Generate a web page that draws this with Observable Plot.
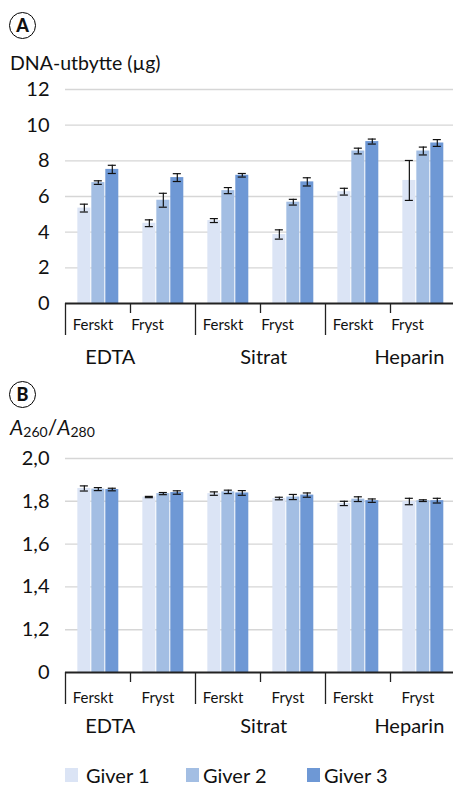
<!DOCTYPE html>
<html><head><meta charset="utf-8">
<script src="https://cdn.jsdelivr.net/npm/d3@7"></script>
<script src="https://cdn.jsdelivr.net/npm/@observablehq/plot@0.6"></script>
<style>
body{margin:0;background:#fff;}
#wrap{position:relative;width:453px;height:787px;font-family:Lato,"Open Sans",sans-serif;color:#111;overflow:hidden;}
.badge{position:absolute;left:9px;width:25px;height:25px;border:1.8px solid #000;border-radius:50%;font-weight:900;font-size:18px;line-height:25px;text-align:center;}
.ylab{position:absolute;left:10px;font-size:19.5px;line-height:1;white-space:nowrap;}
.chart{position:absolute;left:0;}
.sw{position:absolute;top:768px;width:13px;height:14px;}
.lt{position:absolute;top:765px;font-size:20px;line-height:1;white-space:nowrap;}
sub{font-size:14px;vertical-align:-2px;font-style:normal;}
</style></head><body><div id="wrap">
<div class="badge" style="top:12px">A</div>
<div class="ylab" style="top:53px">DNA-utbytte (µg)</div>
<div class="chart" id="chartA" style="top:78px"></div>
<div class="badge" style="top:381px">B</div>
<div class="ylab" style="top:416px;font-size:21px"><i>A</i><sub>260</sub>/<i>A</i><sub>280</sub></div>
<div class="chart" id="chartB" style="top:447px"></div>
<div id="legend"></div>
</div>
<script>
// ---- data ----
const categories = ["Ferskt", "Fryst", "Ferskt", "Fryst", "Ferskt", "Fryst"];
const groups = ["EDTA", "Sitrat", "Heparin"];
const givers = ["Giver 1", "Giver 2", "Giver 3"];
const giverColors = ["#dbe4f5", "#a3bee3", "#6e98d5"];

const yieldG1 = [5.35, 4.50, 4.65, 3.87, 6.27, 6.90];
const yieldG2 = [6.78, 5.79, 6.33, 5.68, 8.55, 8.55];
const yieldG3 = [7.52, 7.06, 7.19, 6.82, 9.08, 9.00];
const yieldErr1 = [0.22, 0.19, 0.11, 0.26, 0.19, 1.12];
const yieldErr2 = [0.10, 0.39, 0.17, 0.16, 0.16, 0.22];
const yieldErr3 = [0.23, 0.22, 0.10, 0.23, 0.14, 0.19];

const ratioG1 = [1.860, 1.820, 1.836, 1.813, 1.790, 1.799];
const ratioG2 = [1.857, 1.836, 1.844, 1.820, 1.810, 1.803];
const ratioG3 = [1.855, 1.841, 1.839, 1.829, 1.803, 1.803];
const ratioErr1 = [0.012, 0.003, 0.008, 0.006, 0.010, 0.015];
const ratioErr2 = [0.007, 0.005, 0.008, 0.012, 0.011, 0.004];
const ratioErr3 = [0.006, 0.008, 0.011, 0.010, 0.008, 0.011];

const yieldTicks = [0, 2, 4, 6, 8, 10, 12];
const yieldTickLabels = ["0", "2", "4", "6", "8", "10", "12"];
const ratioTicks = [1.0, 1.2, 1.4, 1.6, 1.8, 2.0];
const ratioTickLabels = ["0", "1,2", "1,4", "1,6", "1,8", "2,0"];

// ---- layout constants ----
const FONT = "Lato, 'Open Sans', sans-serif";
const BAR0 = 0.19, STEP = 0.215, BW = 0.2, CAP = 0.062;
const groupLabelShift = [-0.31, 0.05, 0.29];

function makeRows(vals, errs) {
  return categories.flatMap((c, i) => givers.map((g, k) => ({
    i, k, giver: g, value: vals[k][i], err: errs[k][i]
  })));
}

function panel({rows, ticks, tickLabels, frystOffset, catDy}) {
  const ymin = ticks[0], ymax = ticks[ticks.length - 1];
  const cx = d => d.i + BAR0 + STEP * d.k + BW / 2;
  const catRows = categories.map((c, i) => ({i, c}));
  const groupRows = groups.map((g, j) => ({j, g}));
  return Plot.plot({
    width: 453, height: 290,
    marginLeft: 65, marginRight: 0, marginTop: 11, marginBottom: 65,
    x: {domain: [0, 6], range: [65, 455], axis: null},
    y: {domain: [ymin, ymax], ticks, tickFormat: (d) => tickLabels[ticks.indexOf(d)],
        tickSize: 0, tickPadding: 16, label: null},
    color: {domain: givers, range: giverColors},
    style: {fontFamily: FONT, fontSize: "20px", background: "transparent", overflow: "visible", color: "#111"},
    marks: [
      Plot.ruleY(ticks.slice(1), {stroke: "#d6d6d6", strokeWidth: 1.4}),
      Plot.rectY(rows, {
        x1: d => d.i + BAR0 + STEP * d.k, x2: d => d.i + BAR0 + STEP * d.k + BW,
        y1: ymin, y2: "value", fill: "giver"
      }),
      Plot.ruleX(rows, {x: cx, y1: d => d.value - d.err, y2: d => d.value + d.err, stroke: "#111", strokeWidth: 1.2}),
      Plot.ruleY(rows, {y: d => d.value + d.err, x1: d => cx(d) - CAP, x2: d => cx(d) + CAP, stroke: "#111", strokeWidth: 1.2}),
      Plot.ruleY(rows, {y: d => d.value - d.err, x1: d => cx(d) - CAP, x2: d => cx(d) + CAP, stroke: "#111", strokeWidth: 1.2}),
      Plot.ruleY([ymin], {stroke: "#222", strokeWidth: 2}),
      Plot.ruleX([0, 2, 4], {y1: ymin, y2: ymin, insetBottom: -32, stroke: "#222", strokeWidth: 1.3}),
      Plot.ruleX([1, 3, 5], {y1: ymin, y2: ymin, insetBottom: -10, stroke: "#222", strokeWidth: 1.3}),
      Plot.text(catRows, {
        x: d => d.i + (d.c === "Ferskt" ? 0.11 : frystOffset), y: ymin, dy: catDy,
        text: "c", textAnchor: "start", fontSize: 15, fill: "#111"
      }),
      Plot.text(groupRows, {
        x: d => 2 * d.j + 1 + groupLabelShift[d.j], y: ymin, dy: 54,
        text: "g", textAnchor: "middle", fontSize: 20, fill: "#111"
      })
    ]
  });
}

document.getElementById("chartA").append(panel({
  rows: makeRows([yieldG1, yieldG2, yieldG3], [yieldErr1, yieldErr2, yieldErr3]),
  ticks: yieldTicks, tickLabels: yieldTickLabels, frystOffset: 0.01, catDy: 22
}));
document.getElementById("chartB").append(panel({
  rows: makeRows([ratioG1, ratioG2, ratioG3], [ratioErr1, ratioErr2, ratioErr3]),
  ticks: ratioTicks, tickLabels: ratioTickLabels, frystOffset: 0.17, catDy: 26
}));

// legend
const legendSwatchX = [65, 186, 307];
const legend = document.getElementById("legend");
givers.forEach((g, k) => {
  const sw = document.createElement("div");
  sw.className = "sw"; sw.style.left = legendSwatchX[k] + "px"; sw.style.background = giverColors[k];
  const t = document.createElement("div");
  t.className = "lt"; t.style.left = (legendSwatchX[k] + 21 - (k ? 4 : 0)) + "px"; t.textContent = g;
  legend.append(sw, t);
});
</script>
</body></html>
